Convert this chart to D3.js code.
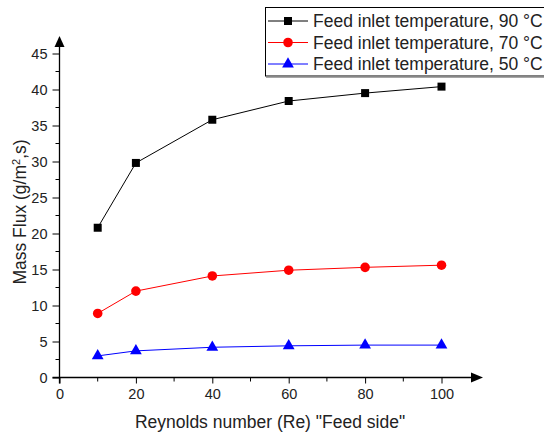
<!DOCTYPE html>
<html>
<head>
<meta charset="utf-8">
<script src="https://cdn.jsdelivr.net/npm/d3@7"></script>
<style>
  body { margin: 0; background: #fff; }
  text { font-family: "Liberation Sans", Arial, sans-serif; }
</style>
</head>
<body>
<svg id="chart" width="544" height="435"></svg>
<script>
// data
var reynolds = [10, 20, 40, 60, 80, 100];
var flux90 = [20.8, 29.8, 35.8, 38.4, 39.5, 40.4];
var flux70 = [8.9, 12.0, 14.1, 14.9, 15.3, 15.6];
var flux50 = [3.0, 3.7, 4.2, 4.4, 4.5, 4.5];
var seriesNames = ["Feed inlet temperature, 90 \u00B0C", "Feed inlet temperature, 70 \u00B0C", "Feed inlet temperature, 50 \u00B0C"];
var xTicks = [0, 20, 40, 60, 80, 100];
var yTicks = [0, 5, 10, 15, 20, 25, 30, 35, 40, 45];

var series = [
  {name: seriesNames[0], values: flux90, color: "#000000", shape: d3.symbolSquare, size: 64},
  {name: seriesNames[1], values: flux70, color: "#ff0000", shape: d3.symbolCircle, size: 72},
  {name: seriesNames[2], values: flux50, color: "#0000ff", shape: d3.symbolTriangle, size: 60}
];

var svg = d3.select("#chart");

var x = d3.scaleLinear().domain([0, 100]).range([59.5, 441.5]);
var y = d3.scaleLinear().domain([0, 45]).range([377.5, 53.5]);

// y axis
var yAxis = d3.axisLeft(y).tickValues(yTicks).tickSize(7).tickPadding(5);
var gy = svg.append("g").attr("transform", "translate(" + x(0) + ",0)").call(yAxis);
gy.select(".domain").remove();
gy.selectAll("text").style("font-size", "14.5px").attr("fill", "#222");
gy.selectAll("line").attr("stroke", "#000");
// minor y ticks
svg.append("g").selectAll("line")
  .data(d3.range(2.5, 45, 5))
  .enter().append("line")
    .attr("x1", x(0) - 4).attr("x2", x(0))
    .attr("y1", d => y(d)).attr("y2", d => y(d))
    .attr("stroke", "#000");

// x axis
var xAxis = d3.axisBottom(x).tickValues(xTicks).tickSize(6).tickPadding(5);
var gx = svg.append("g").attr("transform", "translate(0," + y(0) + ")").call(xAxis);
gx.select(".domain").remove();
gx.selectAll("text").style("font-size", "14.5px").attr("fill", "#222");
gx.selectAll("line").attr("stroke", "#000");
svg.append("g").selectAll("line")
  .data(d3.range(10, 100, 20))
  .enter().append("line")
    .attr("x1", d => x(d)).attr("x2", d => x(d))
    .attr("y1", y(0)).attr("y2", y(0) + 4)
    .attr("stroke", "#000");

// axis lines with arrows
svg.append("line")
  .attr("x1", x(0)).attr("x2", x(0))
  .attr("y1", y(0) + 6).attr("y2", 44)
  .attr("stroke", "#000").attr("stroke-width", 1.3);
svg.append("path")
  .attr("d", "M" + x(0) + ",36 L" + (x(0) - 5) + ",47 L" + (x(0) + 5) + ",47 Z")
  .attr("fill", "#000");
svg.append("line")
  .attr("x1", x(0) - 7).attr("x2", 474)
  .attr("y1", y(0)).attr("y2", y(0))
  .attr("stroke", "#000").attr("stroke-width", 1.3);
svg.append("path")
  .attr("d", "M483," + y(0) + " L471," + (y(0) - 5) + " L471," + (y(0) + 5) + " Z")
  .attr("fill", "#000");

// axis titles
svg.append("text")
  .attr("transform", "translate(26,212) rotate(-90)")
  .attr("text-anchor", "middle")
  .style("font-size", "17.5px")
  .attr("fill", "#222")
  .html("Mass Flux (g/m<tspan dy='-6' font-size='11px'>2</tspan><tspan dy='6'>,s)</tspan>");

svg.append("text")
  .attr("x", 270).attr("y", 428)
  .attr("text-anchor", "middle")
  .style("font-size", "17.5px")
  .attr("fill", "#222")
  .text("Reynolds number (Re) \"Feed side\"");

// series lines and markers
var line = d3.line()
  .x((d, i) => x(reynolds[i]))
  .y(d => y(d));

series.forEach(function (s) {
  svg.append("path")
    .datum(s.values)
    .attr("d", line)
    .attr("fill", "none")
    .attr("stroke", s.color)
    .attr("stroke-width", 1);
  svg.append("g").selectAll("path")
    .data(s.values)
    .enter().append("path")
      .attr("transform", (d, i) => "translate(" + x(reynolds[i]) + "," + y(d) + ")")
      .attr("d", d3.symbol().type(s.shape).size(s.size))
      .attr("fill", s.color);
});

// legend
var legend = svg.append("g");
legend.append("rect")
  .attr("x", 265.5).attr("y", 7.5)
  .attr("width", 290).attr("height", 68.5)
  .attr("fill", "#fff").attr("stroke", "#000");
legend.append("line")
  .attr("x1", 266).attr("x2", 544)
  .attr("y1", 77).attr("y2", 77)
  .attr("stroke", "#888").attr("stroke-width", 1.5);
series.forEach(function (s, i) {
  var ly = 21 + i * 21.5;
  legend.append("line")
    .attr("x1", 268).attr("x2", 308)
    .attr("y1", ly).attr("y2", ly)
    .attr("stroke", s.color);
  legend.append("path")
    .attr("transform", "translate(288," + ly + ")")
    .attr("d", d3.symbol().type(s.shape).size(s.size))
    .attr("fill", s.color);
  legend.append("text")
    .attr("x", 313).attr("y", ly + 6)
    .style("font-size", "17.5px")
    .attr("fill", "#222")
    .text(s.name);
});
</script>
</body>
</html>
